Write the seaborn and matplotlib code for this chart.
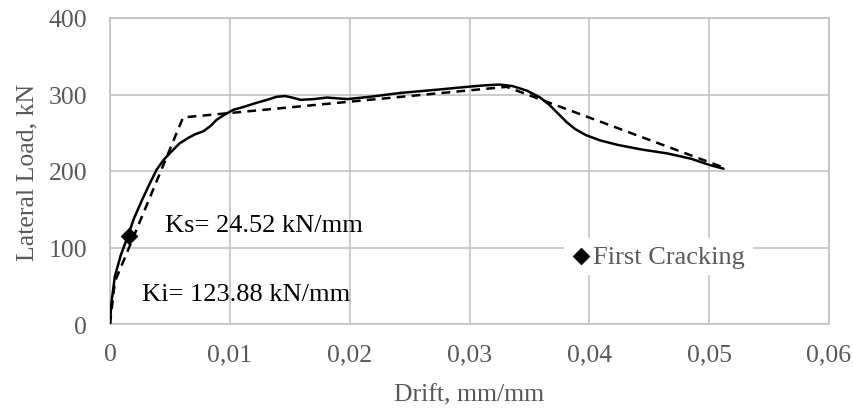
import matplotlib
matplotlib.use("Agg")
import matplotlib.pyplot as plt
import seaborn as sns
import pandas as pd

# Experimental envelope (solid)
drift_exp = [0.0, 0.0001, 0.0004, 0.0009, 0.0014, 0.0020, 0.0027, 0.0033, 0.0039, 0.0045,
             0.0051, 0.0058, 0.0065, 0.0071, 0.0078, 0.0084, 0.0089, 0.0096, 0.0103, 0.0112,
             0.0122, 0.0131, 0.0139, 0.0146, 0.0152, 0.0159, 0.0170, 0.0181, 0.0198, 0.0217,
             0.0242, 0.0271, 0.0298, 0.0313, 0.0325, 0.0336, 0.0348, 0.0359, 0.0367, 0.0374,
             0.0381, 0.0388, 0.0397, 0.0409, 0.0424, 0.0444, 0.0465, 0.0485, 0.0500, 0.0512]
load_exp = [0, 25, 62, 90, 111, 138, 163, 183, 202, 215,
            225, 236, 243, 248, 252, 259, 267, 274, 280, 284,
            289, 293, 297, 298, 296, 293, 294, 296, 294, 297,
            302, 306, 310, 312, 313, 311, 305, 296, 286, 275,
            264, 255, 247, 240, 234, 228, 223, 216, 208, 203]

# Idealised (dashed)
drift_ideal = [0.0, 0.0004, 0.0061, 0.0331, 0.0513]
load_ideal = [0, 55, 270, 310, 204]

# First cracking point
drift_crack = [0.0016]
load_crack = [115]

sns.set_theme(style="whitegrid")
plt.rcParams["font.family"] = ["Liberation Serif", "DejaVu Serif"]

fig = plt.figure(figsize=(8.54, 4.10), dpi=100)
ax = fig.add_axes([110/854, 1-325/410, 719/854, 306/410])

df_exp = pd.DataFrame({"drift": drift_exp, "load": load_exp})
df_ideal = pd.DataFrame({"drift": drift_ideal, "load": load_ideal})
df_crack = pd.DataFrame({"drift": drift_crack, "load": load_crack})

sns.lineplot(data=df_exp, x="drift", y="load", ax=ax, color="black", lw=1.8,
             sort=False, estimator=None, zorder=3)
sns.lineplot(data=df_ideal, x="drift", y="load", ax=ax, color="black", lw=1.8,
             sort=False, estimator=None, zorder=3, dashes=False, linestyle=(0, (3.5, 2.5)))
sns.scatterplot(data=df_crack, x="drift", y="load", ax=ax, marker="D", s=70,
                color="black", edgecolor="black", zorder=4, label="First Cracking")

ax.set_xlim(0, 0.06)
ax.set_ylim(0, 400)
ax.set_xticks([0, 0.01, 0.02, 0.03, 0.04, 0.05, 0.06])
ax.set_xticklabels(["0", "0,01", "0,02", "0,03", "0,04", "0,05", "0,06"])
ax.set_yticks([0, 100, 200, 300, 400])
ax.set_yticklabels(["0", "100", "200", "300", "400"])

ax.grid(True, color="#bfbfbf", lw=1.1)
for s in ax.spines.values():
    s.set_color("#bfbfbf")
    s.set_linewidth(1.1)
ax.tick_params(axis="both", colors="#595959", labelsize=18.5, length=0)
ax.tick_params(axis="x", pad=14)
ax.tick_params(axis="y", pad=16.5)
ax.set_xlabel("Drift, mm/mm", fontsize=18.5, color="#595959", labelpad=13)
ax.set_ylabel("Lateral Load, kN", fontsize=18.5, color="#595959", labelpad=7)

ax.text(0.00459, 130, "Ks= 24.52 kN/mm", fontsize=19, color="black", va="center")
ax.text(0.00267, 39, "Ki= 123.88 kN/mm", fontsize=19, color="black", va="center")

leg = ax.legend(loc="center", bbox_to_anchor=(0.762, 0.222), frameon=True, fontsize=19,
                handletextpad=0.05, borderpad=0.25, handlelength=0.8, borderaxespad=0)
leg.get_frame().set_edgecolor("white")
leg.get_frame().set_facecolor("white")
leg.get_frame().set_alpha(1)
leg.get_frame().set_boxstyle("square", pad=0)
for t in leg.get_texts():
    t.set_color("#595959")

fig.savefig("out.png", dpi=100)
